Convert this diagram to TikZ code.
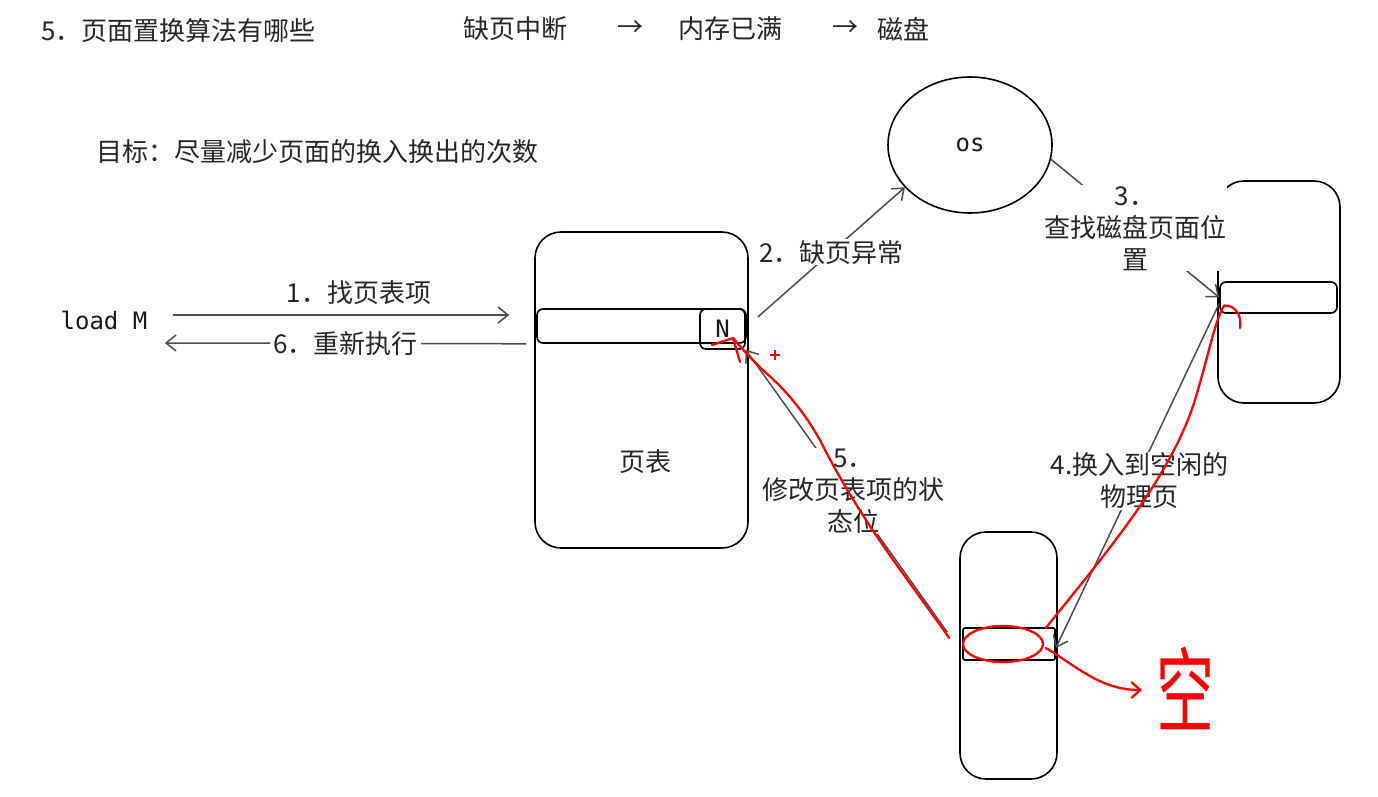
\documentclass[tikz,border=0pt]{standalone}
\usepackage{fontspec}
\setmainfont{Noto Sans CJK SC}
\newfontfamily\codefont{DejaVu Sans Mono}
\usetikzlibrary{arrows.meta,shapes.geometric}

\tikzset{
	box/.style={draw, line width=1.6pt, rounded corners=26pt, inner sep=0pt},
	slot/.style={draw, line width=1.6pt, rounded corners=6pt, inner sep=0pt},
	lbl/.style={font=\fontsize{26}{32}\selectfont, text=black!85},
	code/.style={font=\codefont\fontsize{24}{30}\selectfont, text=black!90},
	flow/.style={line width=1.5pt, draw=black!70, -{Straight Barb[length=10pt,width=16pt]}},
	ink/.style={red, line width=2.3pt, line cap=round, line join=round},
}

\begin{document}
\begin{tikzpicture}[x=1pt,y=-1pt]
	\useasboundingbox (0,0) rectangle (1378,797);
	
	% notes at the top
	\node[lbl, anchor=west] (title) at (38,31) {5．页面置换算法有哪些};
	\node[lbl] (fault) at (515,29) {缺页中断};
	\node[lbl] (arr1) at (630,29) {→};
	\node[lbl] (full) at (730,29) {内存已满};
	\node[lbl] (arr2) at (845,29) {→};
	\node[lbl] (disk) at (903,29) {磁盘};
	\node[lbl, anchor=west] (goal) at (93,152) {目标：尽量减少页面的换入换出的次数};
	
	% boxes
	\node[code] (load) at (104,320) {load M};
	\node[box, minimum width=213pt, minimum height=316pt] (table) at (641.5,390) {};
	\node[slot, minimum width=209pt, minimum height=34pt] (row) at (641.5,326) {};
	\node[slot, minimum width=45pt, minimum height=40pt] (N) at (722.5,329) {};
	\node[code] at (N) {N};
	\node[lbl] (tname) at (645,462) {页表};
	\node[draw, ellipse, line width=1.6pt, minimum width=164pt, minimum height=136pt] (os) at (970,145) {};
	\node[code] at (os) {os};
	\node[box, minimum width=122pt, minimum height=222pt] (swap) at (1279,292) {};
	\node[slot, minimum width=117pt, minimum height=31pt] (drow) at (1278.5,297.5) {};
	\node[box, minimum width=97pt, minimum height=247pt] (mem) at (1008.5,655.5) {};
	\node[slot, rounded corners=2pt, minimum width=92pt, minimum height=32pt] (mrow) at (1009,644) {};
	
	% steps
	\draw[flow] ([xshift=22pt,yshift=5pt]load.east) -- node[lbl, above=6pt, xshift=18pt] {1．找页表项} ([xshift=-27pt,yshift=11pt]row.west);
	\draw[flow] ([xshift=-10pt]row.south west) -- node[lbl, fill=white, inner sep=3pt] {6．重新执行} ([xshift=14pt,yshift=-23pt]load.east);
	\draw[flow] ([xshift=12pt,yshift=12pt]N.east) -- node[lbl, fill=white, inner sep=1pt] {2．缺页异常} (os.213);
	\draw[flow] (os.-10) -- node[lbl, fill=white, align=center, inner sep=1pt] {3．\\查找磁盘页面位\\置} (drow.west);
	\draw[flow] ([yshift=-6pt]drow.west) -- node[lbl, fill=white, align=center, inner sep=1pt, xshift=2pt, yshift=-5pt] {4.换入到空闲的\\物理页} ([yshift=-4pt]mrow.east);
	\draw[flow] ([xshift=-15pt,yshift=12pt]mrow.west) -- node[lbl, fill=white, align=center, inner sep=1pt, xshift=7pt] {5．\\修改页表项的状\\态位} (N.south east);
	
	% red pen marks
	\draw[ink] ([xshift=-13pt,yshift=6pt]mrow.west) .. controls (905,575) and (860,520) .. (820,440)
		.. controls (800,405) and (780,385) .. (765,372) .. controls (752,360) and (745,352) .. (733,338);
	\draw[ink] (733,338) -- (712,345);
	\draw[ink] (733,338) -- (740,362);
	\draw[red, line width=1.2pt] (770,355) -- (780,355) (775,350) -- (775,360);
	\draw[ink] ([xshift=-10pt,yshift=16pt]mrow.east) .. controls (1100,560) and (1170,480) .. (1195,400)
		.. controls (1210,350) and (1215,320) .. ([xshift=5pt,yshift=-8pt]drow.west) .. controls (1235,305) and (1242,315) .. (1240,328);
	\draw[ink] ([xshift=-6pt]mrow.center) ellipse (40pt and 18pt);
	\draw[ink, -{Straight Barb[length=9pt,width=16pt]}] ([xshift=-10pt,yshift=-4pt]mrow.east) .. controls (1075,665) and (1100,690) .. (1142,690);
	\node[red, font=\fontsize{58}{58}\selectfont] (empty) at (1185,688) {\scalebox{1}[1.6]{空}};
\end{tikzpicture}
\end{document}
